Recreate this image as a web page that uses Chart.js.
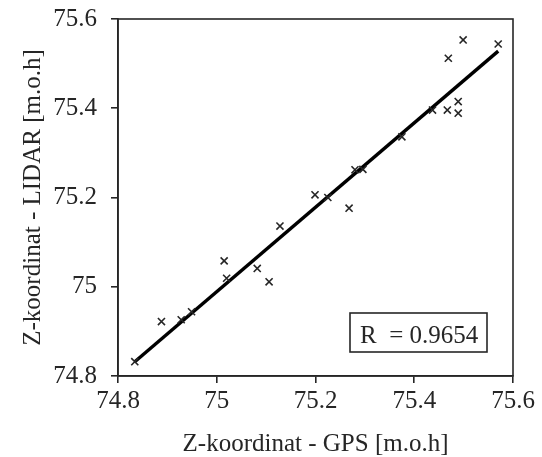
<!DOCTYPE html>
<html>
<head>
<meta charset="utf-8">
<script src="https://cdn.jsdelivr.net/npm/chart.js@4/dist/chart.umd.min.js"></script>
<style>
html,body{margin:0;padding:0;background:#fff;}
#wrap{width:542px;height:457px;position:relative;}
</style>
</head>
<body>
<div id="wrap"><canvas id="c" width="542" height="457"></canvas></div>
<script>
// Data
const gpsZ   = [74.834, 74.888, 74.928, 74.949, 75.015, 75.020, 75.082, 75.106, 75.128, 75.199, 75.225, 75.268, 75.280, 75.296, 75.375, 75.437, 75.467, 75.469, 75.489, 75.489, 75.499, 75.570];
const lidarZ = [74.832, 74.922, 74.926, 74.944, 75.058, 75.019, 75.041, 75.011, 75.136, 75.206, 75.200, 75.176, 75.262, 75.263, 75.336, 75.396, 75.396, 75.512, 75.415, 75.389, 75.553, 75.544];
const fitX = [74.834, 75.570];
const fitY = [74.832, 75.528];
const xTicks = [74.8, 75, 75.2, 75.4, 75.6];
const yTicks = [74.8, 75, 75.2, 75.4, 75.6];
const xTitle = 'Z-koordinat - GPS [m.o.h]';
const yTitle = 'Z-koordinat - LIDAR [m.o.h]';
const rText = 'R  = 0.9654';

const FONT = '"Liberation Serif", "Times New Roman", serif';
const INK = '#262626';
const FS = 25;

const frame = {
  id: 'frame',
  afterDatasetsDraw(chart) {
    const {ctx, chartArea: a} = chart;
    ctx.save();
    ctx.strokeStyle = INK;
    ctx.lineWidth = 1.6;
    ctx.strokeRect(a.left, a.top, a.right - a.left, a.bottom - a.top);
    // R box
    const bx = a.right - 163, by = a.bottom - 63, bw = 137, bh = 39;
    ctx.fillStyle = '#fff';
    ctx.fillRect(bx, by, bw, bh);
    ctx.lineWidth = 1.6;
    ctx.strokeRect(bx, by, bw, bh);
    ctx.fillStyle = INK;
    ctx.font = FS + 'px ' + FONT;
    ctx.textBaseline = 'alphabetic';
    ctx.textAlign = 'left';
    ctx.fillText(rText, bx + 10, by + 30);
    ctx.restore();
  }
};

const pts = gpsZ.map((x, i) => ({x, y: lidarZ[i]}));
const fit = fitX.map((x, i) => ({x, y: fitY[i]}));

new Chart(document.getElementById('c'), {
  type: 'scatter',
  data: {
    datasets: [
      {
        data: fit,
        showLine: true,
        borderColor: '#000',
        borderWidth: 3.4,
        pointRadius: 0,
        order: 2
      },
      {
        data: pts,
        pointStyle: 'crossRot',
        pointRadius: 5,
        pointBorderWidth: 1.6,
        borderColor: INK,
        backgroundColor: INK,
        order: 1
      }
    ]
  },
  options: {
    responsive: false,
    animation: false,
    devicePixelRatio: 1,
    layout: {padding: {top: 19, right: 29, left: 0, bottom: 0}},
    plugins: {legend: {display: false}, tooltip: {enabled: false}},
    scales: {
      x: {
        type: 'linear',
        min: 74.8, max: 75.6,
        afterBuildTicks: s => { s.ticks = xTicks.map(v => ({value: v})); },
        afterFit: s => { s.height = 81; s.paddingLeft = 0; s.paddingRight = 0; },
        grid: {display: true, drawOnChartArea: false, drawTicks: true, tickLength: 7, color: INK, lineWidth: 1.6},
        border: {display: true, color: INK, width: 1.6},
        ticks: {color: INK, font: {family: FONT, size: FS}, padding: 3, maxRotation: 0,
                callback: v => String(Number(v.toFixed(1)))},
        title: {display: true, text: xTitle, color: INK, font: {family: FONT, size: FS, lineHeight: 1.0}, padding: {top: 4, bottom: 0}}
      },
      y: {
        type: 'linear',
        min: 74.8, max: 75.6,
        afterBuildTicks: s => { s.ticks = yTicks.map(v => ({value: v})); },
        afterFit: s => { s.width = 118; s.paddingTop = 0; s.paddingBottom = 0; },
        grid: {display: true, drawOnChartArea: false, drawTicks: true, tickLength: 7, color: INK, lineWidth: 1.6},
        border: {display: true, color: INK, width: 1.6},
        ticks: {color: INK, font: {family: FONT, size: FS}, padding: 14,
                callback: v => String(Number(v.toFixed(1)))},
        title: {display: true, text: yTitle, color: INK, font: {family: FONT, size: FS}, padding: {top: 18, bottom: 4}}
      }
    }
  },
  plugins: [frame]
});
</script>
</body>
</html>
